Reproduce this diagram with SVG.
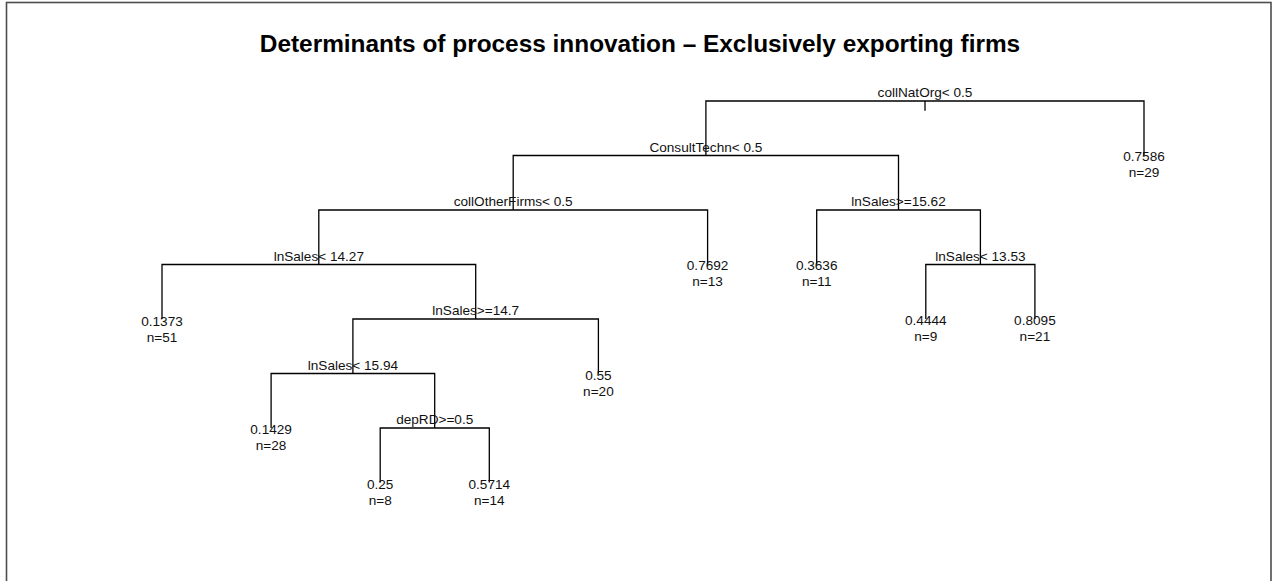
<svg xmlns="http://www.w3.org/2000/svg" width="1280" height="581" viewBox="0 0 1280 581">
<style>
.t{font-family:"Liberation Sans",Arial,sans-serif;font-size:13.6px;fill:#111;text-anchor:middle}
.title{font-family:"Liberation Sans",Arial,sans-serif;font-size:24.4px;font-weight:bold;fill:#000;text-anchor:middle}
.e{fill:none;stroke:#000;stroke-width:1.3}
</style>
<rect x="0" y="0" width="1280" height="581" fill="#fff"/>
<rect x="6.5" y="2.5" width="1264.5" height="620" fill="none" stroke="#4d4d4d" stroke-width="1.6"/>
<text class="title" x="640" y="52">Determinants of process innovation – Exclusively exporting firms</text>
<g id="connectors">
<path class="e" d="M925 101V110.7"/>
<path class="e" d="M705.9 155.5V101H1144V155.5"/>
<path class="e" d="M513.2 210V155.5H898.5V210"/>
<path class="e" d="M318.8 264.5V210H707.6V264.5"/>
<path class="e" d="M162 319V264.5H475.7V319"/>
<path class="e" d="M352.9 373.5V319H598.4V373.5"/>
<path class="e" d="M271.1 428V373.5H434.7V428"/>
<path class="e" d="M380.2 482.5V428H489.3V482.5"/>
<path class="e" d="M816.7 264.5V210H980.4V264.5"/>
<path class="e" d="M925.8 319V264.5H1034.9V319"/>
</g>
<g id="n_collNatOrg"><text class="t" x="925" y="96.5">collNatOrg&lt; 0.5</text></g>
<g id="n_ConsultTechn"><text class="t" x="705.9" y="151.5">ConsultTechn&lt; 0.5</text></g>
<g id="n_collOtherFirms"><text class="t" x="513.2" y="206">collOtherFirms&lt; 0.5</text></g>
<g id="n_lnSales1427"><text class="t" x="318.8" y="260.5">lnSales&lt; 14.27</text></g>
<g id="n_lnSales147"><text class="t" x="475.7" y="315">lnSales&gt;=14.7</text></g>
<g id="n_lnSales1594"><text class="t" x="352.9" y="369.5">lnSales&lt; 15.94</text></g>
<g id="n_depRD"><text class="t" x="434.7" y="424">depRD&gt;=0.5</text></g>
<g id="n_lnSales1562"><text class="t" x="898.5" y="206">lnSales&gt;=15.62</text></g>
<g id="n_lnSales1353"><text class="t" x="980.4" y="260.5">lnSales&lt; 13.53</text></g>
<g id="leaf_0_7586"><text class="t" x="1144" y="161">0.7586</text><text class="t" x="1144" y="177">n=29</text></g>
<g id="leaf_0_7692"><text class="t" x="707.6" y="270">0.7692</text><text class="t" x="707.6" y="286">n=13</text></g>
<g id="leaf_0_1373"><text class="t" x="162" y="325.5">0.1373</text><text class="t" x="162" y="341.5">n=51</text></g>
<g id="leaf_0_55"><text class="t" x="598.4" y="379.5">0.55</text><text class="t" x="598.4" y="395.5">n=20</text></g>
<g id="leaf_0_1429"><text class="t" x="271.1" y="434">0.1429</text><text class="t" x="271.1" y="450">n=28</text></g>
<g id="leaf_0_25"><text class="t" x="380.2" y="488.5">0.25</text><text class="t" x="380.2" y="504.5">n=8</text></g>
<g id="leaf_0_5714"><text class="t" x="489.3" y="488.5">0.5714</text><text class="t" x="489.3" y="504.5">n=14</text></g>
<g id="leaf_0_3636"><text class="t" x="816.7" y="270">0.3636</text><text class="t" x="816.7" y="286">n=11</text></g>
<g id="leaf_0_4444"><text class="t" x="925.8" y="325">0.4444</text><text class="t" x="925.8" y="341">n=9</text></g>
<g id="leaf_0_8095"><text class="t" x="1034.9" y="325">0.8095</text><text class="t" x="1034.9" y="341">n=21</text></g>
</svg>
